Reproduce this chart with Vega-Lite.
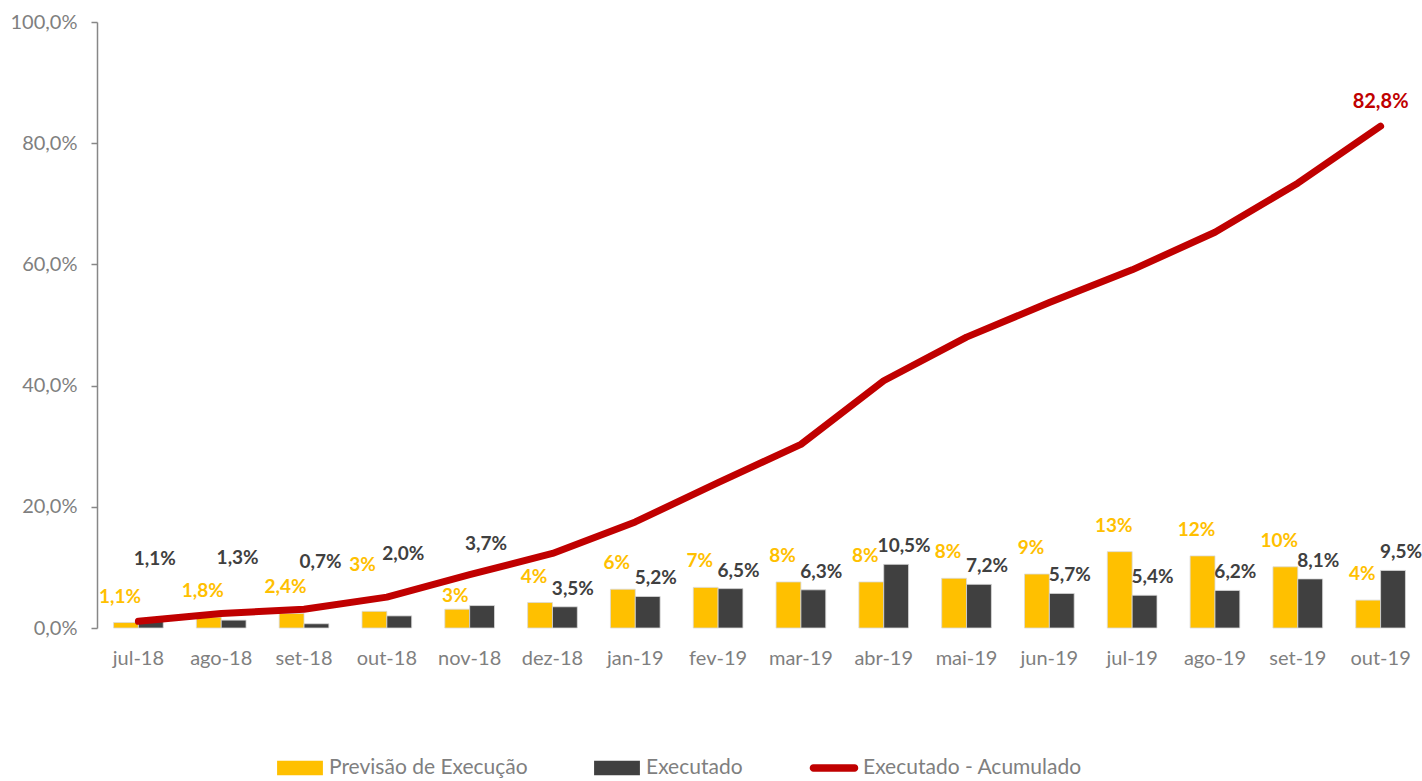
{
  "$schema": "https://vega.github.io/schema/vega-lite/v6.json",
  "width": 1325,
  "height": 606,
  "autosize": "none",
  "padding": {"left": 97, "top": 22, "right": 0, "bottom": 153},
  "background": "white",
  "config": {
    "font": "Lato",
    "view": {"stroke": null}
  },
  "datasets": {
    "barras": [
      {"mes": "jul-18", "serie": "Previsão de Execução", "valor": 0.9, "rotulo": "1,1%"},
      {"mes": "jul-18", "serie": "Executado", "valor": 1.1, "rotulo": "1,1%"},
      {"mes": "ago-18", "serie": "Previsão de Execução", "valor": 1.8, "rotulo": "1,8%"},
      {"mes": "ago-18", "serie": "Executado", "valor": 1.3, "rotulo": "1,3%"},
      {"mes": "set-18", "serie": "Previsão de Execução", "valor": 2.4, "rotulo": "2,4%"},
      {"mes": "set-18", "serie": "Executado", "valor": 0.7, "rotulo": "0,7%"},
      {"mes": "out-18", "serie": "Previsão de Execução", "valor": 2.75, "rotulo": "3%"},
      {"mes": "out-18", "serie": "Executado", "valor": 2.0, "rotulo": "2,0%"},
      {"mes": "nov-18", "serie": "Previsão de Execução", "valor": 3.1, "rotulo": "3%"},
      {"mes": "nov-18", "serie": "Executado", "valor": 3.7, "rotulo": "3,7%"},
      {"mes": "dez-18", "serie": "Previsão de Execução", "valor": 4.2, "rotulo": "4%"},
      {"mes": "dez-18", "serie": "Executado", "valor": 3.5, "rotulo": "3,5%"},
      {"mes": "jan-19", "serie": "Previsão de Execução", "valor": 6.4, "rotulo": "6%"},
      {"mes": "jan-19", "serie": "Executado", "valor": 5.2, "rotulo": "5,2%"},
      {"mes": "fev-19", "serie": "Previsão de Execução", "valor": 6.7, "rotulo": "7%"},
      {"mes": "fev-19", "serie": "Executado", "valor": 6.5, "rotulo": "6,5%"},
      {"mes": "mar-19", "serie": "Previsão de Execução", "valor": 7.6, "rotulo": "8%"},
      {"mes": "mar-19", "serie": "Executado", "valor": 6.3, "rotulo": "6,3%"},
      {"mes": "abr-19", "serie": "Previsão de Execução", "valor": 7.6, "rotulo": "8%"},
      {"mes": "abr-19", "serie": "Executado", "valor": 10.5, "rotulo": "10,5%"},
      {"mes": "mai-19", "serie": "Previsão de Execução", "valor": 8.2, "rotulo": "8%"},
      {"mes": "mai-19", "serie": "Executado", "valor": 7.2, "rotulo": "7,2%"},
      {"mes": "jun-19", "serie": "Previsão de Execução", "valor": 8.9, "rotulo": "9%"},
      {"mes": "jun-19", "serie": "Executado", "valor": 5.7, "rotulo": "5,7%"},
      {"mes": "jul-19", "serie": "Previsão de Execução", "valor": 12.6, "rotulo": "13%"},
      {"mes": "jul-19", "serie": "Executado", "valor": 5.4, "rotulo": "5,4%"},
      {"mes": "ago-19", "serie": "Previsão de Execução", "valor": 11.9, "rotulo": "12%"},
      {"mes": "ago-19", "serie": "Executado", "valor": 6.2, "rotulo": "6,2%"},
      {"mes": "set-19", "serie": "Previsão de Execução", "valor": 10.1, "rotulo": "10%"},
      {"mes": "set-19", "serie": "Executado", "valor": 8.1, "rotulo": "8,1%"},
      {"mes": "out-19", "serie": "Previsão de Execução", "valor": 4.6, "rotulo": "4%"},
      {"mes": "out-19", "serie": "Executado", "valor": 9.5, "rotulo": "9,5%"}
    ],
    "acumulado": [
      {"mes": "jul-18", "serie": "Executado - Acumulado", "valor": 1.1},
      {"mes": "ago-18", "serie": "Executado - Acumulado", "valor": 2.4},
      {"mes": "set-18", "serie": "Executado - Acumulado", "valor": 3.1},
      {"mes": "out-18", "serie": "Executado - Acumulado", "valor": 5.1},
      {"mes": "nov-18", "serie": "Executado - Acumulado", "valor": 8.8},
      {"mes": "dez-18", "serie": "Executado - Acumulado", "valor": 12.3},
      {"mes": "jan-19", "serie": "Executado - Acumulado", "valor": 17.5},
      {"mes": "fev-19", "serie": "Executado - Acumulado", "valor": 24.0},
      {"mes": "mar-19", "serie": "Executado - Acumulado", "valor": 30.3},
      {"mes": "abr-19", "serie": "Executado - Acumulado", "valor": 40.8},
      {"mes": "mai-19", "serie": "Executado - Acumulado", "valor": 48.0},
      {"mes": "jun-19", "serie": "Executado - Acumulado", "valor": 53.7},
      {"mes": "jul-19", "serie": "Executado - Acumulado", "valor": 59.1},
      {"mes": "ago-19", "serie": "Executado - Acumulado", "valor": 65.3},
      {"mes": "set-19", "serie": "Executado - Acumulado", "valor": 73.4},
      {"mes": "out-19", "serie": "Executado - Acumulado", "valor": 82.8, "rotulo": "82,8%"}
    ]
  },
  "encoding": {
    "x": {
      "field": "mes",
      "type": "nominal",
      "sort": ["jul-18","ago-18","set-18","out-18","nov-18","dez-18","jan-19","fev-19","mar-19","abr-19","mai-19","jun-19","jul-19","ago-19","set-19","out-19"],
      "scale": {"paddingInner": 0.4, "paddingOuter": 0.2},
      "axis": {
        "title": null,
        "labelAngle": 0,
        "domain": false,
        "ticks": false,
        "labelFontSize": 20,
        "labelColor": "#7f7f7f",
        "labelPadding": 20
      }
    },
    "y": {
      "field": "valor",
      "type": "quantitative",
      "scale": {"domain": [0, 100], "nice": false},
      "axis": {
        "title": null,
        "values": [0, 20, 40, 60, 80, 100],
        "grid": false,
        "domainColor": "#878787",
        "domainWidth": 1.5,
        "tickColor": "#878787",
        "tickWidth": 1.5,
        "tickSize": 6,
        "labelFontSize": 20,
        "labelColor": "#7f7f7f",
        "labelPadding": 14,
        "labelExpr": "replace(format(datum.value, '.1f'), '.', ',') + '%'"
      }
    },
    "color": {
      "field": "serie",
      "type": "nominal",
      "scale": {
        "domain": ["Previsão de Execução", "Executado", "Executado - Acumulado"],
        "range": ["#FFC000", "#404040", "#C00000"]
      },
      "legend": {
        "title": null,
        "orient": "none",
        "direction": "horizontal",
        "legendX": 180,
        "legendY": 723,
        "labelFontSize": 21,
        "labelColor": "#7f7f7f",
        "labelOffset": 6,
        "labelLimit": 400,
        "columnPadding": 66,
        "symbolSize": 2100,
        "symbolStrokeWidth": 0,
        "symbolType": "M-1,-0.32H1V0.32H-1Z",
        "encode": {
          "symbols": {
            "enter": {
              "shape": {"signal": "datum.value === 'Executado - Acumulado' ? 'M-0.9,-0.16H0.9A0.16,0.16,0,0,1,0.9,0.16H-0.9A0.16,0.16,0,0,1,-0.9,-0.16Z' : 'M-1,-0.32H1V0.32H-1Z'"}
            },
            "update": {
              "shape": {"signal": "datum.value === 'Executado - Acumulado' ? 'M-0.9,-0.16H0.9A0.16,0.16,0,0,1,0.9,0.16H-0.9A0.16,0.16,0,0,1,-0.9,-0.16Z' : 'M-1,-0.32H1V0.32H-1Z'"},
              "fill": {"scale": "color", "field": "value"},
              "strokeWidth": {"value": 0},
              "opacity": {"value": 1}
            }
          }
        }
      }
    }
  },
  "layer": [
    {
      "data": {"name": "barras"},
      "mark": {"type": "bar", "stroke": "#d9d9d9", "strokeWidth": 0.8},
      "encoding": {
        "xOffset": {"field": "serie", "type": "nominal", "sort": ["Previsão de Execução", "Executado"], "scale": {"paddingInner": 0}}
      }
    },
    {
      "data": {"name": "barras"},
      "transform": [{"filter": "datum.serie === 'Previsão de Execução' && datum.mes !== 'out-18' && datum.mes !== 'nov-18'"}],
      "mark": {"type": "text", "baseline": "bottom", "dy": -16, "dx": -6, "fontSize": 19, "fontWeight": "bold", "color": "#FFC000"},
      "encoding": {
        "xOffset": {"field": "serie", "type": "nominal", "sort": ["Previsão de Execução", "Executado"], "scale": {"paddingInner": 0}},
        "color": {"value": "#FFC000"},
        "text": {"field": "rotulo"}
      }
    },
    {
      "data": {"name": "barras"},
      "transform": [{"filter": "datum.serie === 'Previsão de Execução' && datum.mes === 'out-18'"}],
      "mark": {"type": "text", "baseline": "bottom", "dy": -36, "dx": -12, "fontSize": 19, "fontWeight": "bold", "color": "#FFC000"},
      "encoding": {
        "xOffset": {"field": "serie", "type": "nominal", "sort": ["Previsão de Execução", "Executado"], "scale": {"paddingInner": 0}},
        "color": {"value": "#FFC000"},
        "text": {"field": "rotulo"}
      }
    },
    {
      "data": {"name": "barras"},
      "transform": [{"filter": "datum.serie === 'Previsão de Execução' && datum.mes === 'nov-18'"}],
      "mark": {"type": "text", "baseline": "bottom", "dy": -3, "dx": -2, "fontSize": 19, "fontWeight": "bold", "color": "#FFC000"},
      "encoding": {
        "xOffset": {"field": "serie", "type": "nominal", "sort": ["Previsão de Execução", "Executado"], "scale": {"paddingInner": 0}},
        "color": {"value": "#FFC000"},
        "text": {"field": "rotulo"}
      }
    },
    {
      "data": {"name": "barras"},
      "transform": [{"filter": "datum.serie === 'Executado' && indexof(['jul-18','ago-18','set-18','out-18','nov-18'], datum.mes) < 0"}],
      "mark": {"type": "text", "baseline": "bottom", "dy": -8, "dx": 8, "fontSize": 19, "fontWeight": "bold", "color": "#404040"},
      "encoding": {
        "xOffset": {"field": "serie", "type": "nominal", "sort": ["Previsão de Execução", "Executado"], "scale": {"paddingInner": 0}},
        "color": {"value": "#404040"},
        "text": {"field": "rotulo"}
      }
    },
    {
      "data": {"name": "barras"},
      "transform": [{"filter": "datum.serie === 'Executado' && indexof(['jul-18','ago-18','set-18','out-18','nov-18'], datum.mes) >= 0"}],
      "mark": {"type": "text", "baseline": "bottom", "dy": -52, "dx": 4, "fontSize": 19, "fontWeight": "bold", "color": "#404040"},
      "encoding": {
        "xOffset": {"field": "serie", "type": "nominal", "sort": ["Previsão de Execução", "Executado"], "scale": {"paddingInner": 0}},
        "color": {"value": "#404040"},
        "text": {"field": "rotulo"}
      }
    },
    {
      "data": {"name": "acumulado"},
      "mark": {"type": "line", "strokeWidth": 7, "strokeCap": "round", "strokeJoin": "round"},
      "encoding": {}
    },
    {
      "data": {"name": "acumulado"},
      "transform": [{"filter": "datum.mes === 'out-19'"}],
      "mark": {"type": "text", "baseline": "bottom", "dy": -14, "fontSize": 20, "fontWeight": "bold", "color": "#C00000"},
      "encoding": {
        "color": {"value": "#C00000"},
        "text": {"field": "rotulo"}
      }
    }
  ]
}
